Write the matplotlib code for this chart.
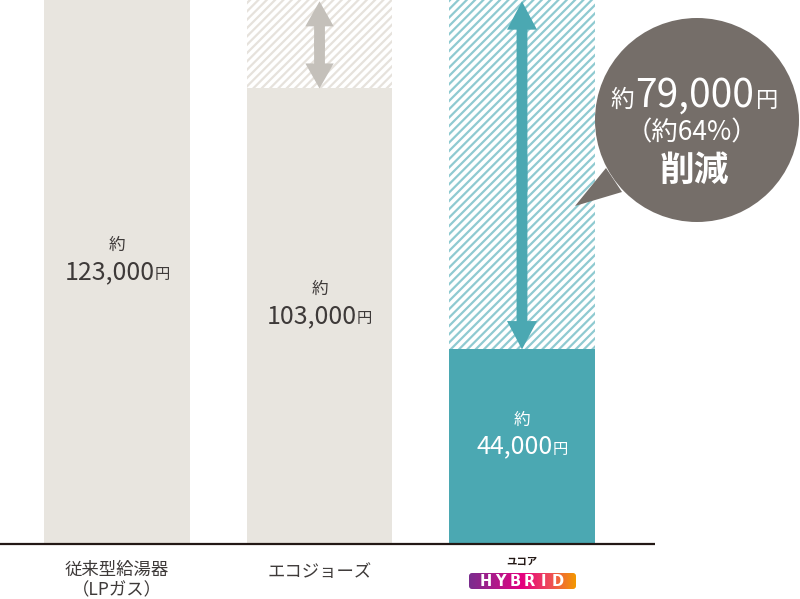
import numpy as np
import matplotlib
matplotlib.use('Agg')
import matplotlib.pyplot as plt
from matplotlib.patches import FancyArrowPatch, Circle, Polygon, FancyBboxPatch
from matplotlib.offsetbox import TextArea, HPacker, AnnotationBbox

plt.rcParams['font.family'] = ['Noto Sans CJK JP', 'DejaVu Sans']
plt.rcParams['hatch.linewidth'] = 1.6

# ── data ──
categories = ['従来型給湯器\n（LPガス）', 'エコジョーズ', 'HYBRID']
costs = [123000, 103000, 44000]
value_labels = ['123,000', '103,000', '44,000']
saving_label = '79,000'
saving_pct = '（約64%）'

BEIGE = '#e8e5df'
BEIGE_HATCH = '#e6e2dc'
TEAL = '#4ba8b2'
TEAL_HATCH = '#8fcad1'
TEXT = '#3e3a39'
BUBBLE = '#756e69'

fig = plt.figure(figsize=(8, 5.99), dpi=100)
ax = fig.add_axes([0, 55 / 599, 1, 544 / 599])
top = max(costs)
ax.set_ylim(0, top)
ax.set_xlim(-0.578, 3.373)
ax.axis('off')

x = np.arange(len(costs))
fills = [BEIGE, BEIGE, TEAL]
hatch_cols = [BEIGE_HATCH, BEIGE_HATCH, TEAL_HATCH]
ax.bar(x, costs, width=0.72, color=fills, linewidth=0, zorder=2)
for i in range(1, len(costs)):
    ax.bar(x[i], top - costs[i], bottom=costs[i], width=0.72, color='white',
           edgecolor=hatch_cols[i], hatch='////', linewidth=0, zorder=1)

# baseline
ax.plot([-0.578, 2.657], [0, 0], color='#231815', lw=1.6, zorder=3,
        solid_capstyle='butt', clip_on=False)

# double arrows showing the saving
arrow_styles = {1: ('#c4c0ba', 'simple,head_length=1.5,head_width=1.7,tail_width=0.65'),
                2: (TEAL, 'simple,head_length=1.7,head_width=1.8,tail_width=0.65')}
for i, (col, style) in arrow_styles.items():
    mid = (costs[i] + top) / 2
    overlap = (top - costs[i]) * 0.05
    for start, end in ((mid - overlap, top - 300), (mid + overlap, costs[i])):
        ax.add_patch(FancyArrowPatch((x[i], start), (x[i], end), arrowstyle=style,
                                     mutation_scale=12, color=col, lw=0,
                                     shrinkA=0, shrinkB=0, zorder=4))

# value labels in the bars
for i, (v, lab) in enumerate(zip(costs, value_labels)):
    col = 'white' if i == 2 else TEXT
    box = HPacker(children=[TextArea(lab, textprops=dict(size=18, color=col)),
                            TextArea('円', textprops=dict(size=11, color=col))],
                  align='baseline', pad=0, sep=0)
    ab = AnnotationBbox(box, (x[i], v / 2), xybox=(0, 0), boxcoords='offset points',
                        frameon=False, zorder=5)
    ax.add_artist(ab)
    ax.annotate('約', (x[i], v / 2), xytext=(0, 19), textcoords='offset points',
                ha='center', va='center', size=12, color=col, zorder=5)

# overlay in pixel coordinates for bubble and labels
ov = fig.add_axes([0, 0, 1, 1], zorder=10)
ov.set_xlim(0, 800)
ov.set_ylim(599, 0)
ov.axis('off')
ov.patch.set_alpha(0)

ov.add_patch(Circle((697, 120), 102, color=BUBBLE, lw=0))
ov.add_patch(Polygon([(606, 168), (622, 192), (575, 206)], closed=True, color=BUBBLE, lw=0))

line1 = HPacker(children=[TextArea('約', textprops=dict(size=17, color='white')),
                          TextArea(saving_label, textprops=dict(size=28, color='white')),
                          TextArea('円', textprops=dict(size=16, color='white'))],
                align='baseline', pad=0, sep=1)
ov.add_artist(AnnotationBbox(line1, (694, 96), frameon=False))
ov.text(692, 133, saving_pct, ha='center', va='center', size=19, color='white')
ov.text(694, 170, '削減', ha='center', va='center', size=25, color='white',
        fontweight='bold')

# category labels
centers_px = [117, 319.5, 521.5]
ov.text(centers_px[0], 580, categories[0], ha='center', va='center', size=12.5,
        color=TEXT, linespacing=1.2)
ov.text(centers_px[1], 572, categories[1], ha='center', va='center', size=12.5,
        color=TEXT)

# HYBRID logo
ov.text(centers_px[2], 562, 'ユコア', ha='center', va='center', size=7.5,
        color='#231815', fontweight='bold')
grad = np.linspace(0, 1, 256).reshape(1, -1)
cmap = matplotlib.colors.LinearSegmentedColormap.from_list(
    'hyb', ['#7a2d8e', '#b0188a', '#e5007f', '#ee4a5a', '#f39800'])
im = ov.imshow(grad, cmap=cmap, extent=(469, 576, 589, 573), aspect='auto', zorder=11)
clip = FancyBboxPatch((469, 573), 107, 16, boxstyle='round,pad=0,rounding_size=3',
                      transform=ov.transData, facecolor='none', edgecolor='none')
ov.add_patch(clip)
im.set_clip_path(clip)
for cx, ch in zip(np.linspace(486, 558, 6), 'HYBRID'):
    ov.text(cx, 581.5, ch, ha='center', va='center', size=10.5, color='white',
            fontweight='bold', family='DejaVu Sans', zorder=12)
ov.set_xlim(0, 800)
ov.set_ylim(599, 0)

fig.savefig('out.png', dpi=100)
